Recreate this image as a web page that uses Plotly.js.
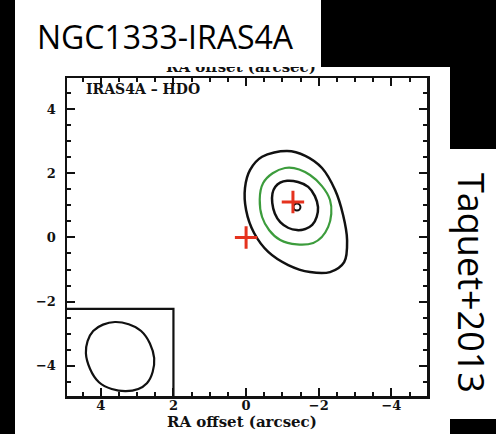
<!DOCTYPE html>
<html>
<head>
<meta charset="utf-8">
<script src="https://cdn.plot.ly/plotly-3.0.1.min.js"></script>
<style>
html, body { margin: 0; padding: 0; background: #000; }
#chart { width: 496px; height: 434px; }
</style>
</head>
<body>
<div id="chart"></div>
<script>
// HDO emission towards NGC1333-IRAS4A, offsets in arcsec (RA axis reversed)
const tickValues = [4, 2, 0, -2, -4];

// outer black contour
const outerX = [-1.13, -1.63, -2.09, -2.45, -2.67, -2.78, -2.70, -2.31, -1.76, -1.16, -0.61, -0.22, 0.00, 0.03, -0.11, -0.44];
const outerY = [2.70, 2.55, 2.17, 1.48, 0.70, -0.08, -0.77, -1.08, -1.08, -0.86, -0.45, 0.14, 0.86, 1.55, 2.11, 2.52];

// green contour
const greenX = [-1.07, -1.76, -2.31, -2.26, -1.85, -0.94, -0.44, -0.47];
const greenY = [2.17, 1.95, 1.17, 0.33, -0.17, -0.08, 0.64, 1.70];

// inner black contour
const innerX = [-1.13, -1.71, -1.98, -1.82, -1.40, -0.94, -0.72, -0.80];
const innerY = [1.77, 1.58, 0.95, 0.39, 0.23, 0.48, 1.08, 1.58];

// emission peak (smallest contour)
const peakX = [-1.40];
const peakY = [0.95];

// source positions (red crosses)
const srcX = [0, -1.29];
const srcY = [0, 1.11];

// beam ellipse and its box corner
const beamX = [3.61, 2.89, 2.53, 2.73, 3.31, 4.05, 4.41, 4.21];
const beamY = [-2.64, -2.92, -3.77, -4.55, -4.80, -4.52, -3.61, -2.92];
const beamBoxX = [2];
const beamBoxY = [-2.23];

const xRange = [4.93, -4.98];
const yRange = [-4.95, 4.98];

const closeLoop = a => a.concat([a[0]]);

// figure geometry (pixels) -> paper coordinates
const W = 496, H = 434;
const M = { l: 67, r: 69, t: 78, b: 38 };
const PW = W - M.l - M.r, PH = H - M.t - M.b;
const px = v => (v - M.l) / PW;
const py = v => (H - M.b - v) / PH;

const ink = '#111';
const contourLine = { color: ink, width: 2.5, shape: 'spline', smoothing: 1 };

const traces = [
  { x: closeLoop(outerX), y: closeLoop(outerY), mode: 'lines', line: contourLine, hoverinfo: 'skip' },
  { x: closeLoop(greenX), y: closeLoop(greenY), mode: 'lines',
    line: { color: '#3c9c3c', width: 2.2, shape: 'spline', smoothing: 1 }, hoverinfo: 'skip' },
  { x: closeLoop(innerX), y: closeLoop(innerY), mode: 'lines', line: contourLine, hoverinfo: 'skip' },
  { x: peakX, y: peakY, mode: 'markers',
    marker: { symbol: 'circle-open', size: 7, color: ink, line: { width: 2, color: ink } }, hoverinfo: 'skip' },
  { x: closeLoop(beamX), y: closeLoop(beamY), mode: 'lines',
    line: { color: ink, width: 2.2, shape: 'spline', smoothing: 1 }, hoverinfo: 'skip' },
  { x: [xRange[0] + 1, beamBoxX[0], beamBoxX[0]],
    y: [beamBoxY[0], beamBoxY[0], yRange[0] - 1],
    mode: 'lines', line: { color: ink, width: 2.2 }, hoverinfo: 'skip' },
  { x: srcX, y: srcY, mode: 'markers',
    marker: { symbol: 'cross-thin', size: 16, color: '#e5321e', line: { width: 3, color: '#e5321e' } },
    hoverinfo: 'skip' }
];

const tickFont = { family: 'DejaVu Serif', size: 13, weight: 'bold', color: ink };
const axisCommon = {
  showgrid: false, zeroline: false,
  showline: true, linecolor: ink, linewidth: 2.5, mirror: 'ticks',
  ticks: 'inside', ticklen: 8, tickwidth: 2, tickcolor: ink,
  tickvals: tickValues, tickfont: tickFont,
  minor: { dtick: 0.5, ticks: 'inside', ticklen: 4, tickwidth: 2, tickcolor: ink }
};

const serifBold = (size) => ({ family: 'DejaVu Serif', size: size, weight: 'bold', color: ink });

const layout = {
  width: W, height: H, autosize: false,
  margin: M,
  paper_bgcolor: '#000',
  plot_bgcolor: 'rgba(0,0,0,0)',
  showlegend: false,
  xaxis: Object.assign({}, axisCommon, { range: xRange, ticklabelstandoff: -4 }),
  yaxis: Object.assign({}, axisCommon, { range: yRange, ticklabelstandoff: 6 }),
  shapes: [
    { type: 'rect', xref: 'paper', yref: 'paper', layer: 'below',
      x0: px(15), x1: px(450), y0: py(67), y1: py(434), fillcolor: '#fff', line: { width: 0 } },
    { type: 'rect', xref: 'paper', yref: 'paper', layer: 'below',
      x0: px(450), x1: px(496), y0: py(149), y1: py(419), fillcolor: '#fff', line: { width: 0 } }
  ],
  annotations: [
    // top axis label, partly hidden under the title panel
    { text: 'RA offset (arcsec)', xref: 'paper', yref: 'paper', x: px(241), y: py(67),
      xanchor: 'center', yanchor: 'middle', showarrow: false, font: serifBold(15) },
    // title panel
    { text: '\u00a0', xref: 'paper', yref: 'paper', x: px(15), y: py(0),
      xanchor: 'left', yanchor: 'top', showarrow: false, width: 306, height: 67,
      bgcolor: '#fff', borderpad: 0, borderwidth: 0, font: { size: 10 } },
    { text: 'NGC1333-IRAS4A', xref: 'paper', yref: 'paper', x: px(35), y: py(36),
      xanchor: 'left', yanchor: 'middle', showarrow: false,
      font: { family: 'Open Sans', size: 32, color: '#000' } },
    { text: 'IRAS4A \u2013 HDO', xref: 'paper', yref: 'paper', x: px(84), y: py(89),
      xanchor: 'left', yanchor: 'middle', showarrow: false, font: serifBold(14) },
    { text: 'RA offset (arcsec)', xref: 'paper', yref: 'paper', x: px(242), y: py(422),
      xanchor: 'center', yanchor: 'middle', showarrow: false, font: serifBold(15) },
    { text: 'Taquet+2013', xref: 'paper', yref: 'paper', x: px(472), y: py(283),
      xanchor: 'center', yanchor: 'middle', textangle: 90, showarrow: false,
      font: { family: 'Open Sans', size: 36, color: '#000' } }
  ]
};

Plotly.newPlot('chart', traces, layout, { staticPlot: true, displayModeBar: false });
</script>
</body>
</html>
